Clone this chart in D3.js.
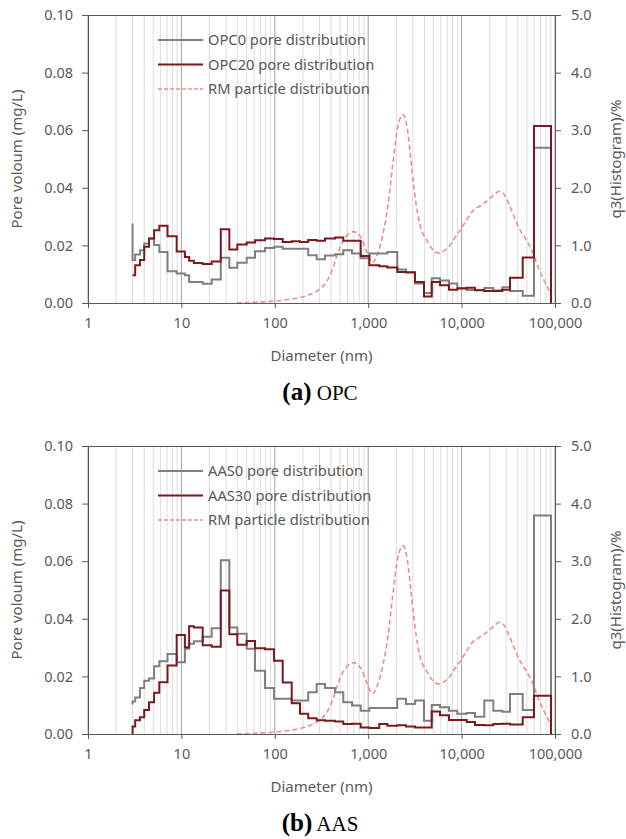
<!DOCTYPE html>
<html>
<head>
<meta charset="utf-8">
<script src="https://cdn.jsdelivr.net/npm/d3@7"></script>
<style>
    body { margin: 0; background: #fff; }
    svg text { font-family: "Noto Sans", "Open Sans", sans-serif; }
</style>
</head>
<body>
<svg id="chart" width="626" height="839"></svg>
<script>
// Bin edges of the MIP histograms (nm), shared by all series
const binEdges = [3.0, 3.2, 3.6, 4.0, 4.5, 5.1, 5.8, 7.1, 8.9, 10.9, 12.1, 13.6, 16.9, 21.1, 26.4, 32.6, 39.7, 50.0, 61.4, 78.5,
    98.0, 121.5, 151.7, 186, 228, 281, 345, 441, 541, 671, 831, 1028, 1315, 1602, 2049, 2540, 3171, 3958, 4786, 5872,
    7331, 8995, 11340, 13917, 17500, 21850, 27280, 32970, 45100, 59600, 90620];

// Pore volume per bin (mg/L)
const opc0 = [0.0149, 0.0168, 0.0183, 0.0207, 0.0224, 0.0201, 0.0177, 0.0110, 0.0102, 0.0096,
    0.0073, 0.0073, 0.0067, 0.0082, 0.0157, 0.0122, 0.0140, 0.0157, 0.0180, 0.0191,
    0.0195, 0.0188, 0.0188, 0.0188, 0.0166, 0.0152, 0.0165, 0.0169, 0.0183, 0.0172,
    0.0155, 0.0172, 0.0172, 0.0177, 0.0116, 0.0108, 0.0068, 0.0035, 0.0086, 0.0078,
    0.0068, 0.0052, 0.0045, 0.0045, 0.0052, 0.0043, 0.0055, 0.0042, 0.0025, 0.0539];
const opc20 = [0.0096, 0.0131, 0.0149, 0.0195, 0.0224, 0.0253, 0.0268, 0.0232, 0.0179, 0.0160,
    0.0147, 0.0139, 0.0135, 0.0144, 0.0256, 0.0186, 0.0203, 0.0210, 0.0218, 0.0224,
    0.0222, 0.0212, 0.0214, 0.0212, 0.0219, 0.0216, 0.0224, 0.0227, 0.0216, 0.0216,
    0.0163, 0.0131, 0.0128, 0.0123, 0.0108, 0.0106, 0.0073, 0.0023, 0.0073, 0.0062,
    0.0046, 0.0050, 0.0053, 0.0044, 0.0042, 0.0042, 0.0046, 0.0088, 0.0158, 0.0615];
const aas0 = [0.0113, 0.0127, 0.0160, 0.0185, 0.0193, 0.0235, 0.0253, 0.0278, 0.0249, 0.0296,
    0.0313, 0.0322, 0.0338, 0.0367, 0.0603, 0.0370, 0.0348, 0.0296, 0.0220, 0.0160,
    0.0122, 0.0122, 0.0116, 0.0116, 0.0145, 0.0174, 0.0160, 0.0145, 0.0110, 0.0099,
    0.0081, 0.0090, 0.0090, 0.0090, 0.0122, 0.0104, 0.0116, 0.0046, 0.0101, 0.0093,
    0.0081, 0.0070, 0.0073, 0.0060, 0.0116, 0.0081, 0.0077, 0.0139, 0.0083, 0.0759];
const aas30 = [0.0026, 0.0048, 0.0058, 0.0083, 0.0110, 0.0143, 0.0180, 0.0238, 0.0344, 0.0301,
    0.0374, 0.0370, 0.0308, 0.0303, 0.0498, 0.0346, 0.0310, 0.0323, 0.0298, 0.0294,
    0.0254, 0.0179, 0.0107, 0.0070, 0.0055, 0.0048, 0.0046, 0.0043, 0.0035, 0.0036,
    0.0023, 0.0021, 0.0035, 0.0029, 0.0030, 0.0026, 0.0023, 0.0023, 0.0078, 0.0065,
    0.0049, 0.0049, 0.0042, 0.0031, 0.0030, 0.0035, 0.0036, 0.0033, 0.0058, 0.0133];

// RM particle size distribution, q3 (%)
const rmDiameter = [39, 60, 95, 140, 190, 240, 290, 355, 406, 460, 500, 577, 694, 850, 970, 1110, 1260, 1440, 1630, 1830,
    2070, 2360, 2640, 2900, 3270, 3660, 4200, 4780, 5600, 6400, 7500, 8600, 10000, 11400, 13200, 15600, 18300, 21300,
    25500, 28700, 32400, 36500, 41200, 49000, 57000, 67000, 76000, 87000, 94000];
const rmValue = [0, 0.01, 0.03, 0.06, 0.1, 0.15, 0.22, 0.36, 0.55, 0.80, 0.97, 1.15, 1.24, 1.12, 0.88, 0.70, 0.85, 1.2, 1.7, 2.4,
    3.05, 3.27, 3.0, 2.4, 1.7, 1.3, 1.1, 0.95, 0.87, 0.9, 1.0, 1.15, 1.3, 1.45, 1.6, 1.68, 1.76, 1.85,
    1.94, 1.88, 1.7, 1.5, 1.3, 1.1, 0.9, 0.6, 0.4, 0.2, 0.03];

// Ticks
const xTicks = [1, 10, 100, 1000, 10000, 100000];
const yTicks = [0, 0.02, 0.04, 0.06, 0.08, 0.10];
const y2Ticks = [0, 1, 2, 3, 4, 5];

const textColor = '#595959';
const axisColor = '#595959';
const grayColor = '#7f7f7f';
const redColor = '#7b1a1c';
const rmColor = '#ec8e8e';

const svg = d3.select('#chart');

const left = 88, right = 555, plotH = 288;

function drawChart(top, seriesA, seriesB, startA, startB, names, caption) {
    const g = svg.append('g').attr('transform', `translate(${left}, ${top})`);
    const w = right - left;

    const x = d3.scaleLog().domain([1, 100000]).range([0, w]);
    const y = d3.scaleLinear().domain([0, 0.1]).range([plotH, 0]);
    const y2 = d3.scaleLinear().domain([0, 5]).range([plotH, 0]);

    // Vertical gridlines (minor first, then decades)
    const minor = [];
    for (let dec = 1; dec < 100000; dec *= 10) {
        for (let k = 2; k <= 9; k++) minor.push(dec * k);
    }
    g.selectAll('.minor')
        .data(minor)
        .enter()
        .append('line')
        .attr('x1', d => x(d)).attr('x2', d => x(d))
        .attr('y1', 0).attr('y2', plotH)
        .attr('stroke', '#dcdcdc')
        .attr('stroke-width', 1);
    g.selectAll('.major')
        .data(xTicks)
        .enter()
        .append('line')
        .attr('x1', d => x(d)).attr('x2', d => x(d))
        .attr('y1', 0).attr('y2', plotH)
        .attr('stroke', '#a3a3a3')
        .attr('stroke-width', 1);

    // Top border
    g.append('line')
        .attr('x1', 0).attr('x2', w)
        .attr('y1', 0.5).attr('y2', 0.5)
        .attr('stroke', axisColor);

    // RM dashed curve on the right axis
    const rmLine = d3.line()
        .x(d => x(d[0]))
        .y(d => y2(d[1]))
        .curve(d3.curveMonotoneX);
    g.append('path')
        .datum(rmDiameter.map((d, i) => [d, rmValue[i]]))
        .attr('d', rmLine)
        .attr('fill', 'none')
        .attr('stroke', rmColor)
        .attr('stroke-width', 1.6)
        .attr('stroke-dasharray', '5,3');

    // Step outline of a histogram
    const stepLine = d3.line()
        .x(d => x(d[0]))
        .y(d => y(d[1]));
    function stepPoints(values, start) {
        const pts = [[binEdges[0], start]];
        values.forEach((v, i) => {
            pts.push([binEdges[i], v]);
            pts.push([binEdges[i + 1], v]);
        });
        pts.push([binEdges[binEdges.length - 1], 0]);
        return pts;
    }

    g.append('path')
        .datum(stepPoints(seriesA, startA))
        .attr('d', stepLine)
        .attr('fill', 'none')
        .attr('stroke', grayColor)
        .attr('stroke-width', 2);
    g.append('path')
        .datum(stepPoints(seriesB, startB))
        .attr('d', stepLine)
        .attr('fill', 'none')
        .attr('stroke', redColor)
        .attr('stroke-width', 2);

    // Axes
    const xAxis = g.append('g')
        .attr('transform', `translate(0, ${plotH})`)
        .call(d3.axisBottom(x).tickValues(xTicks).tickFormat(d3.format(',')).tickSize(5).tickPadding(10));
    const yAxis = g.append('g')
        .call(d3.axisLeft(y).tickValues(yTicks).tickFormat(d3.format('.2f')).tickSize(6).tickPadding(9));
    const y2Axis = g.append('g')
        .attr('transform', `translate(${w}, 0)`)
        .call(d3.axisRight(y2).tickValues(y2Ticks).tickFormat(d3.format('.1f')).tickSize(6).tickPadding(10));

    [xAxis, yAxis, y2Axis].forEach(a => {
        a.selectAll('path, line').attr('stroke', axisColor);
        a.selectAll('text')
            .attr('fill', textColor)
            .style('font-size', '14.5px')
            .style('font-family', '"Noto Sans", sans-serif');
    });

    // Axis titles
    g.append('text')
        .attr('x', w / 2)
        .attr('y', plotH + 58)
        .attr('text-anchor', 'middle')
        .attr('fill', textColor)
        .style('font-size', '15px')
        .text('Diameter (nm)');
    g.append('text')
        .attr('transform', `translate(${-66}, ${plotH / 2}) rotate(-90)`)
        .attr('text-anchor', 'middle')
        .attr('fill', textColor)
        .style('font-size', '15px')
        .text('Pore voloum (mg/L)');
    g.append('text')
        .attr('transform', `translate(${w + 66}, ${plotH / 2}) rotate(-90)`)
        .attr('text-anchor', 'middle')
        .attr('fill', textColor)
        .style('font-size', '15px')
        .text('q3(Histogram)/%');

    // Legend
    const legendItems = [
        { name: names[0], color: grayColor, dash: null, width: 2 },
        { name: names[1], color: redColor, dash: null, width: 2 },
        { name: 'RM particle distribution', color: rmColor, dash: '4,2', width: 1.6 }
    ];
    const legend = g.append('g').attr('transform', 'translate(70, 25)');
    legend.selectAll('line')
        .data(legendItems)
        .enter()
        .append('line')
        .attr('x1', 0).attr('x2', 45)
        .attr('y1', (d, i) => i * 24.5).attr('y2', (d, i) => i * 24.5)
        .attr('stroke', d => d.color)
        .attr('stroke-width', d => d.width)
        .attr('stroke-dasharray', d => d.dash);
    legend.selectAll('text')
        .data(legendItems)
        .enter()
        .append('text')
        .attr('x', 50)
        .attr('y', (d, i) => i * 24.5)
        .attr('dy', '0.35em')
        .attr('fill', textColor)
        .style('font-size', '14.7px')
        .text(d => d.name);

    // Caption below the chart
    const cap = svg.append('text')
        .attr('x', 320)
        .attr('y', top + plotH + 97)
        .attr('text-anchor', 'middle')
        .style('font-family', '"Liberation Serif", "Times New Roman", serif')
        .attr('fill', '#000');
    cap.append('tspan')
        .style('font-weight', 'bold')
        .style('font-size', '25px')
        .text(caption[0]);
    cap.append('tspan')
        .style('font-size', '21px')
        .text(' ' + caption[1]);
}

drawChart(15, opc0, opc20, 0.0276, 0.0096, ['OPC0 pore distribution', 'OPC20 pore distribution'], ['(a)', 'OPC']);
drawChart(446, aas0, aas30, 0.0102, 0, ['AAS0 pore distribution', 'AAS30 pore distribution'], ['(b)', 'AAS']);
</script>
</body>
</html>
